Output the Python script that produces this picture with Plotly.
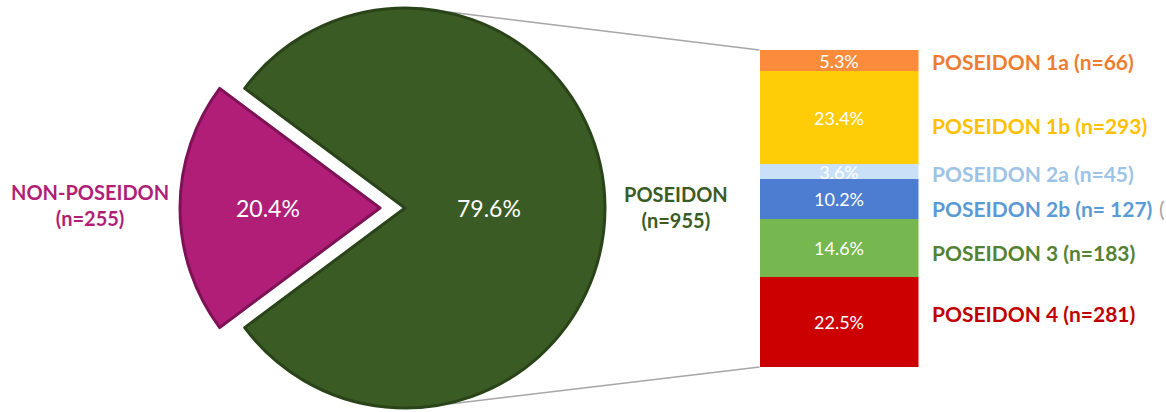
import plotly.graph_objects as go

W, H = 1166, 412

# main split (percent of total) and counts
main_labels = ["POSEIDON", "NON-POSEIDON"]
main_pct = [79.6, 20.4]
main_n = [955, 255]
main_colors = ["#3B5B25", "#B01E78"]
main_edge = ["#2A4419", "#7E1256"]

# POSEIDON breakdown (percent of total)
sub_labels = ["POSEIDON 1a", "POSEIDON 1b", "POSEIDON 2a", "POSEIDON 2b", "POSEIDON 3", "POSEIDON 4"]
sub_pct = [5.3, 23.4, 3.6, 10.2, 14.6, 22.5]
sub_n = ["66", "293", "45", " 127", "183", "281"]
sub_colors = ["#FD8B3C", "#FFCC08", "#C9E1F8", "#4D7DD1", "#77B74F", "#CC0000"]
sub_text_colors = ["#ED7D31", "#FFC000", "#9DC3E6", "#5B9BD5", "#548235", "#C00000"]
label_yshift = [-1, -8, -2, -10, -4, 9]

FONT = "Lato"

# pie geometry in pixels
cx, cy, r = 405, 208, 200
pull_px = 25
# bar geometry in pixels
bx0, bx1, by0, by1 = 759.5, 918.5, 50, 367

def px_x(v):
    return v / W

def px_y(v):
    return 1 - v / H

rotation = 90 - main_pct[0] / 100 * 180

fig = go.Figure()

# POSEIDON slice
fig.add_trace(go.Pie(
    values=main_pct, labels=main_labels, sort=False, direction="clockwise",
    rotation=rotation,
    marker=dict(colors=[main_colors[0], "rgba(0,0,0,0)"],
                line=dict(color=[main_edge[0], "rgba(0,0,0,0)"], width=[3, 0])),
    textinfo="none",
    domain=dict(x=[px_x(cx - r), px_x(cx + r)], y=[px_y(cy + r), px_y(cy - r)]),
    hoverinfo="skip", showlegend=False,
))

# NON-POSEIDON slice, pulled out to the left
fig.add_trace(go.Pie(
    values=main_pct, labels=main_labels, sort=False, direction="clockwise",
    rotation=rotation,
    marker=dict(colors=["rgba(0,0,0,0)", main_colors[1]],
                line=dict(color=["rgba(0,0,0,0)", main_edge[1]], width=[0, 3])),
    textinfo="none",
    domain=dict(x=[px_x(cx - r - pull_px), px_x(cx + r - pull_px)], y=[px_y(cy + r), px_y(cy - r)]),
    hoverinfo="skip", showlegend=False,
))

# percentage labels inside the pie slices
for p, x_pos in [(main_pct[0], cx + 0.42 * r), (main_pct[1], cx - pull_px - 0.56 * r)]:
    fig.add_annotation(
        x=px_x(x_pos), y=px_y(cy), xref="paper", yref="paper",
        xanchor="center", yanchor="middle", showarrow=False,
        text=f"{p}%", font=dict(family=FONT, size=23, color="white"),
    )

# stacked bar
for lab, p, c in zip(sub_labels, sub_pct, sub_colors):
    fig.add_trace(go.Bar(
        x=[0], y=[p], width=1, name=lab, marker=dict(color=c, line=dict(width=0)),
        text=[f"{p}%"], textposition="inside", insidetextanchor="middle",
        textangle=0, textfont=dict(family=FONT, size=18, color="white"),
        xaxis="x", yaxis="y", showlegend=False, hoverinfo="skip",
    ))

# labels to the right of the bar
cum = 0
for lab, p, n, tc, ys in zip(sub_labels, sub_pct, sub_n, sub_text_colors, label_yshift):
    mid = cum + p / 2
    cum += p
    fig.add_annotation(
        x=0.5, y=mid, xref="x", yref="y", xanchor="left", yanchor="middle",
        xshift=11, yshift=ys, showarrow=False,
        text=f"<b>{lab} (n={n})</b>",
        font=dict(family=FONT, size=21, color=tc),
    )

# cut-off glyph at the right edge
fig.add_annotation(
    x=px_x(1157), y=px_y(208), xref="paper", yref="paper", xanchor="left",
    showarrow=False, text="(", font=dict(family=FONT, size=21, color="#A6A6A6"),
)

# pie category labels
fig.add_annotation(
    x=px_x(90), y=px_y(205), xref="paper", yref="paper", showarrow=False,
    xanchor="center", yanchor="middle",
    text=f"<b>{main_labels[1]}<br>(n={main_n[1]})</b>",
    font=dict(family=FONT, size=20, color="#B01E78"), align="center",
)
fig.add_annotation(
    x=px_x(676), y=px_y(207), xref="paper", yref="paper", showarrow=False,
    xanchor="center", yanchor="middle",
    text=f"<b>{main_labels[0]}<br>(n={main_n[0]})</b>",
    font=dict(family=FONT, size=20, color="#3B5B25"), align="center",
)

# connector lines from pie to bar
for py_pie, py_bar in [(cy - r + 2, by0), (cy + r - 2, by1)]:
    fig.add_shape(
        type="line", xref="paper", yref="paper",
        x0=px_x(cx + 28), y0=px_y(py_pie), x1=px_x(bx0), y1=px_y(py_bar),
        line=dict(color="#A6A6A6", width=1.5), layer="below",
    )

fig.update_layout(
    width=W, height=H,
    margin=dict(l=0, r=0, t=0, b=0),
    paper_bgcolor="white", plot_bgcolor="rgba(0,0,0,0)",
    barmode="stack", bargap=0,
    xaxis=dict(domain=[px_x(bx0), px_x(bx1)], range=[-0.5, 0.5], visible=False, fixedrange=True),
    yaxis=dict(domain=[px_y(by1), px_y(by0)], range=[sum(sub_pct), 0], visible=False, fixedrange=True),
    font=dict(family=FONT),
)
fig.update_traces(constraintext="none", selector=dict(type="bar"))

fig.write_html(
    "out.html",
    config={"displayModeBar": False},
    post_script="document.body.style.margin='0';",
)
